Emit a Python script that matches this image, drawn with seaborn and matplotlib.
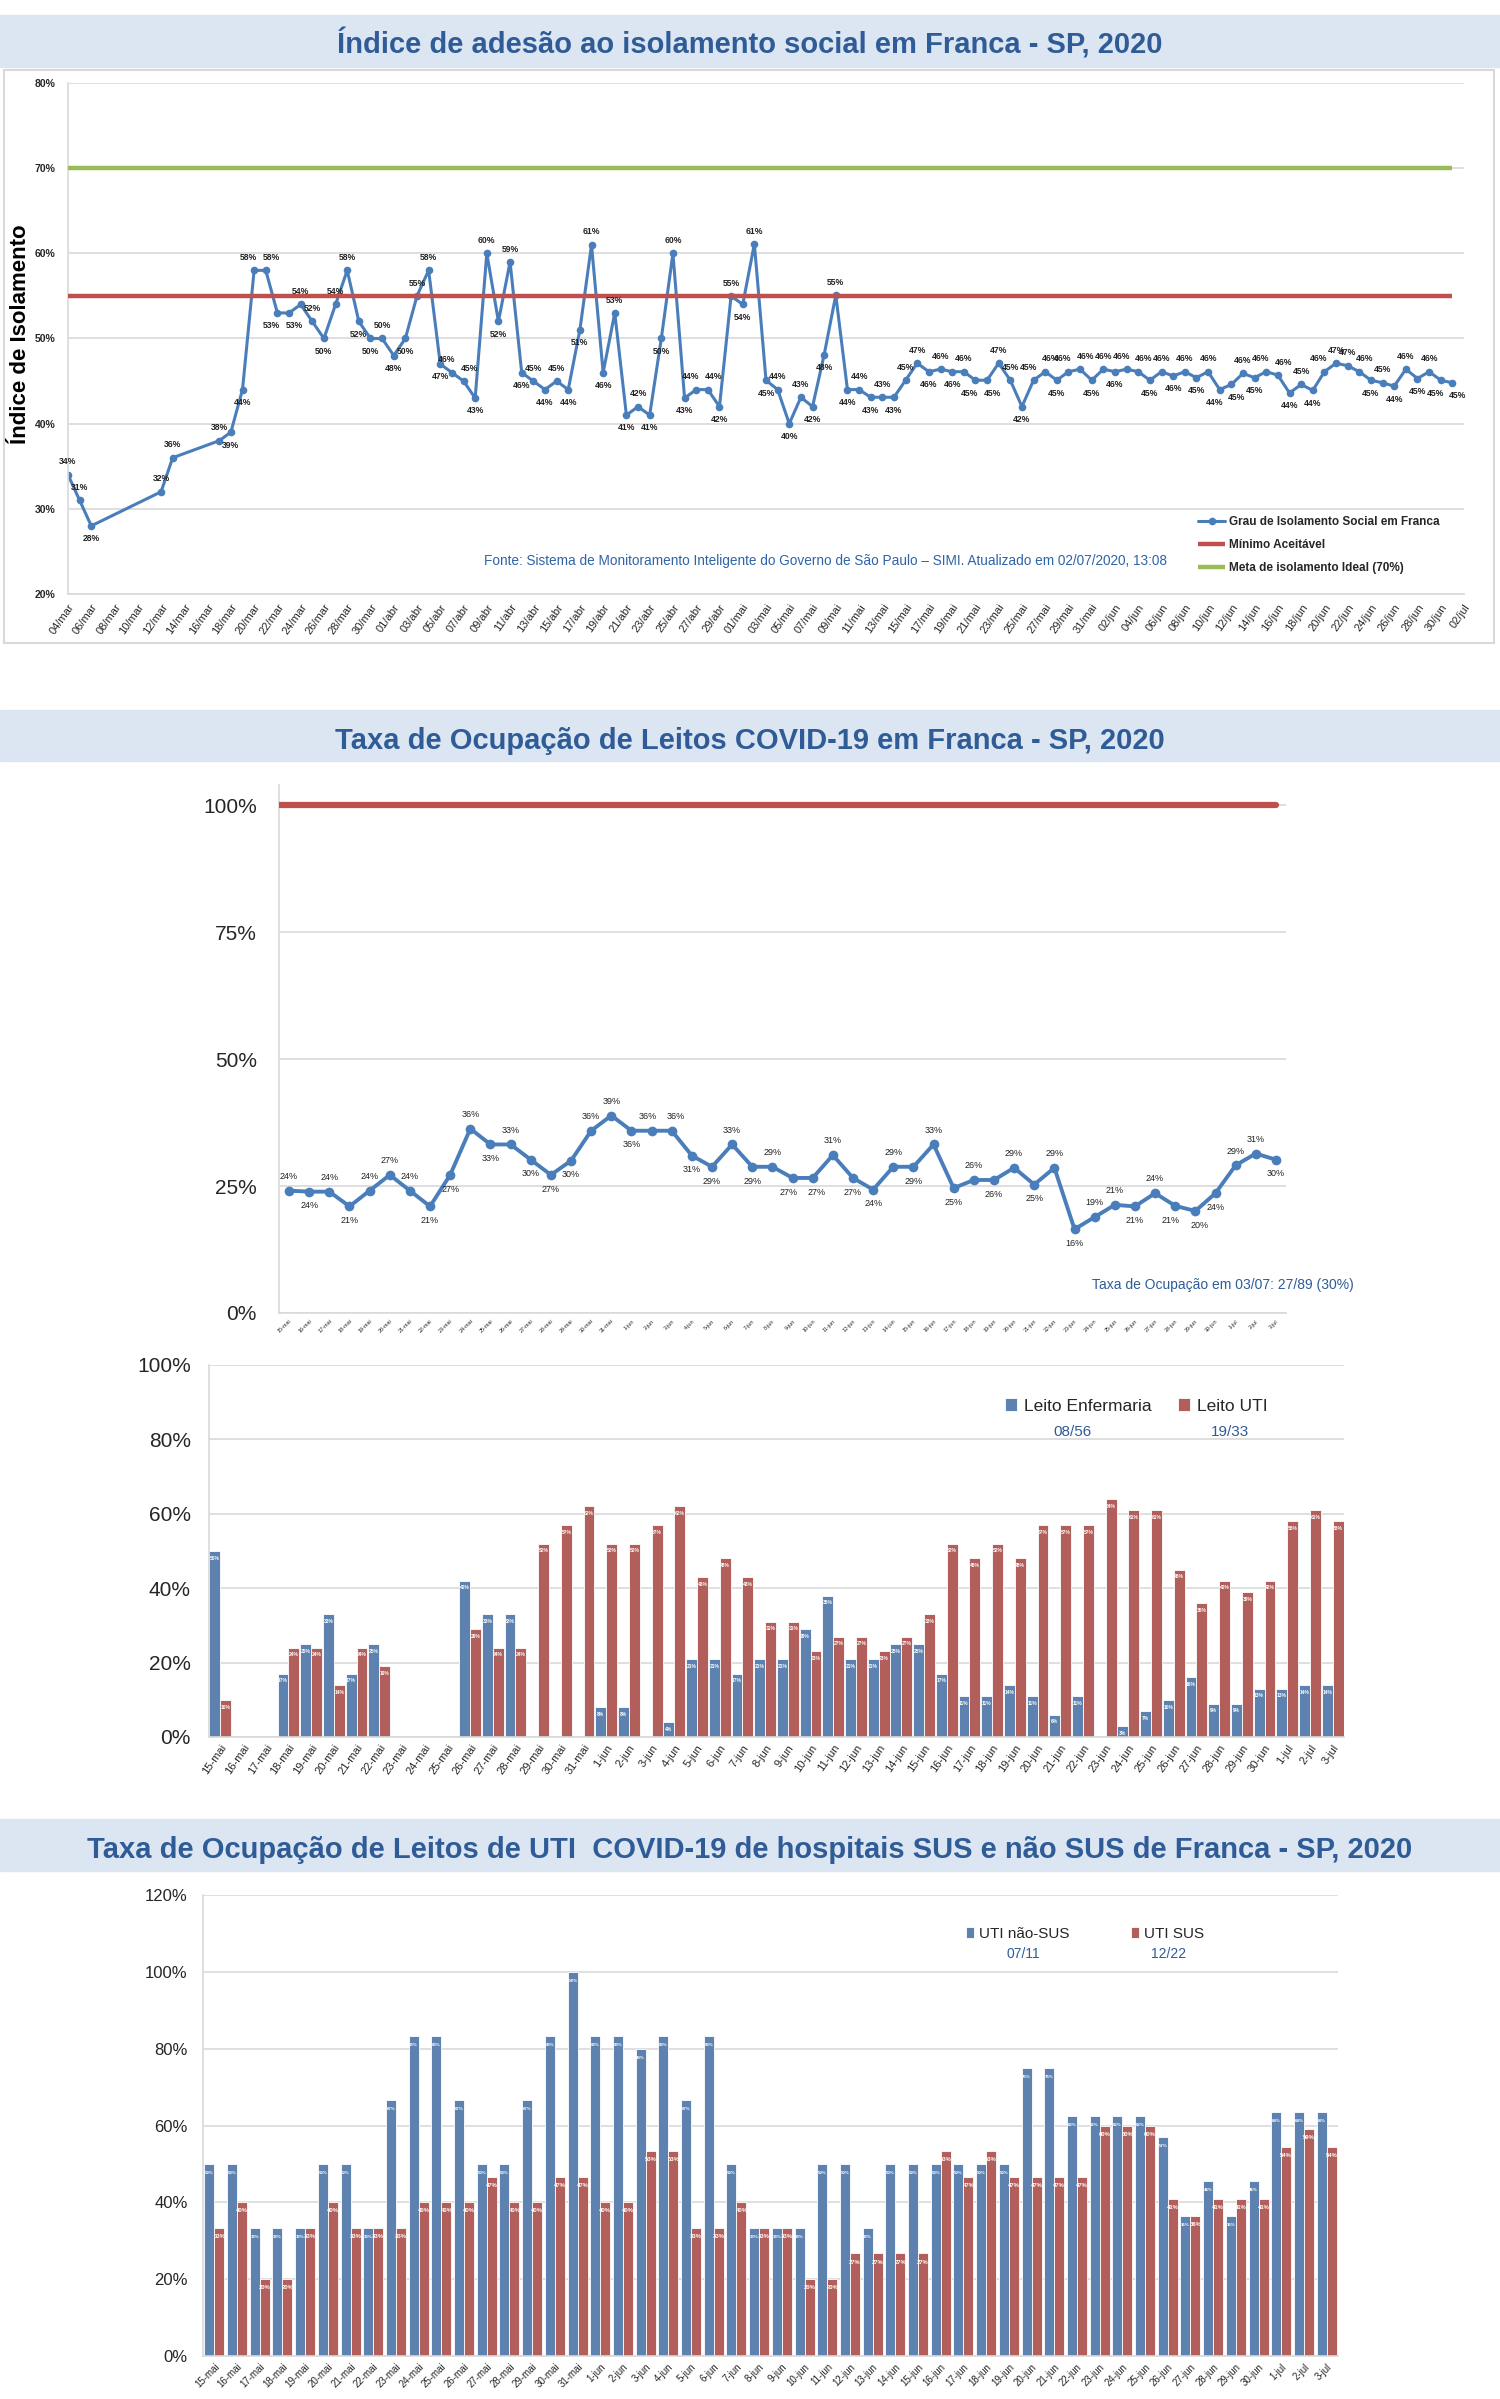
import matplotlib
matplotlib.use("Agg")
import matplotlib.pyplot as plt
from matplotlib.patches import Rectangle
import numpy as np
import pandas as pd
import seaborn as sns

# ---------------- dados ----------------
nan = np.nan
ISO_INICIO = "2020-03-04"
iso_mar = [34, 31, 28, nan, nan, nan, nan, nan, 32, 36, nan, nan, nan,
           38, 39, 44, 58, 58, 53, 53, 54, 52, 50, 54, 58, 52, 50, 50]
iso_abr = [48, 50, 55, 58, 47, 46, 45, 43, 60, 52, 59, 46, 45, 44, 45,
           44, 51, 61, 46, 53, 41, 42, 41, 50, 60, 43, 44, 44, 42, 55]
iso_mai = [54, 61.1, 45.1, 44, 40, 43.1, 42, 48.1, 55.1, 44, 44, 43.1, 43.1, 43.1, 45.1,
           47.1, 46.1, 46.4, 46.1, 46.1, 45.1, 45.1, 47.1, 45.1, 42, 45.1, 46.1, 45.1,
           46.1, 46.4, 45.1]
iso_jun = [46.4, 46.1, 46.4, 46.1, 45.1, 46.1, 45.6, 46.1, 45.4, 46.1, 44, 44.6, 45.9,
           45.4, 46.1, 45.7, 43.6, 44.6, 43.9, 46.1, 47.1, 46.8, 46.1, 45.1, 44.8, 44.4,
           46.4, 45.3, 46.1, 45.1]
iso_jul = [44.8]
MINIMO_ACEITAVEL = 55
META_IDEAL = 70

LEITOS_INICIO = "2020-05-15"
ocupacao_total = [24.1, 23.9, 23.9, 21.0, 24.1, 27.2, 24.1, 21.0, 27.2, 36.3, 33.2, 33.2,
                  30.2, 27.2, 30.0, 35.9, 38.9,
                  35.9, 35.9, 35.9, 31.0, 28.8, 33.2, 28.8, 28.8, 26.6, 26.6, 31.1, 26.6,
                  24.3, 28.8, 28.8, 33.2, 24.6, 26.2, 26.2, 28.6, 25.3, 28.6, 16.5, 18.9,
                  21.3, 21.0, 23.6, 21.1, 20.1, 23.6,
                  29.1, 31.4, 30.2]
CAPACIDADE = 100

leito_enfermaria = [50, nan, nan, 17, 25, 33, 17, 25, nan, nan, nan, 42, 33, 33, nan, nan, nan,
                    8, 8, nan, 4, 21, 21, 17, 21, 21, 29, 38, 21, 21, 25, 25, 17, 11, 11, 14,
                    11, 6, 11, nan, 3, 7, 10, 16, 9, 9, 13,
                    13, 14, 14]
leito_uti = [10, nan, nan, 24, 24, 14, 24, 19, nan, nan, nan, 29, 24, 24, 52, 57, 62,
             52, 52, 57, 62, 43, 48, 43, 31, 31, 23, 27, 27, 23, 27, 33, 52, 48, 52, 48,
             57, 57, 57, 64, 61, 61, 45, 36, 42, 39, 42,
             58, 61, 58]
enfermaria_hoje = "08/56"
uti_hoje = "19/33"

uti_nao_sus = [50, 50, 33.3, 33.3, 33.3, 50, 50, 33.3, 66.7, 83.3, 83.3, 66.7, 50, 50, 66.7,
               83.3, 100,
               83.3, 83.3, 80, 83.3, 66.7, 83.3, 50, 33.3, 33.3, 33.3, 50, 50, 33.3, 50, 50,
               50, 50, 50, 50, 75, 75, 62.5, 62.5, 62.5, 62.5, 57.1, 36.4, 45.5, 36.4, 45.5,
               63.6, 63.6, 63.6]
uti_sus = [33.3, 40, 20, 20, 33.3, 40, 33.3, 33.3, 33.3, 40, 40, 40, 46.7, 40, 40, 46.7, 46.7,
           40, 40, 53.3, 53.3, 33.3, 33.3, 40, 33.3, 33.3, 20, 20, 26.7, 26.7, 26.7, 26.7,
           53.3, 46.7, 53.3, 46.7, 46.7, 46.7, 46.7, 60, 60, 60, 40.9, 36.4, 40.9, 40.9, 40.9,
           54.5, 59.1, 54.5]
nao_sus_hoje = "07/11"
sus_hoje = "12/22"

MESES = {3: "mar", 4: "abr", 5: "mai", 6: "jun", 7: "jul"}

# ---------------- estilo ----------------
sns.set_theme(style="white")
plt.rcParams["font.family"] = ["Liberation Sans", "DejaVu Sans"]
NARROW = ["Liberation Sans Narrow", "Liberation Sans", "DejaVu Sans"]

AZUL_LINHA = "#4a7ebb"
AZUL_BARRA = "#4f81bd"
VERMELHO = "#c0504d"
VERDE = "#9bbb59"
GRADE = "#d9d9d9"
FAIXA = "#dce6f2"
AZUL_TEXTO = "#2f5c97"

W, H = 1500, 2399
fig = plt.figure(figsize=(W / 100, H / 100), dpi=100)


def box(left, top, right, bottom):
    return [left / W, 1 - bottom / H, (right - left) / W, (bottom - top) / H]


def fx(x):
    return x / W


def fy(y):
    return 1 - y / H


def title_band(top, bottom, text_y, text):
    fig.patches.append(Rectangle((0, fy(bottom)), 1, (bottom - top) / H,
                                 transform=fig.transFigure, color=FAIXA, zorder=0))
    fig.text(0.5, fy(text_y), text, ha="center", va="center",
             fontsize=21, fontweight="bold", color=AZUL_TEXTO, family=NARROW)


def label_offsets(vals, dy, dx):
    # acima/abaixo conforme os vizinhos; afasta rotulos vizinhos quase iguais
    up = []
    for i, v in enumerate(vals):
        nb = [vals[j] for j in (i - 1, i + 1) if 0 <= j < len(vals)]
        up.append(v >= sum(nb) / len(nb))
    shift = [0.0] * len(vals)
    for i in range(1, len(vals)):
        if up[i] == up[i - 1] and abs(vals[i] - vals[i - 1]) < 1.5:
            shift[i - 1] -= dx
            shift[i] += dx
    return [(s, dy if u else -dy) for s, u in zip(shift, up)]


def light_axes(ax):
    for s in ["top", "right"]:
        ax.spines[s].set_visible(False)
    for s in ["left", "bottom"]:
        ax.spines[s].set_color(GRADE)
        ax.spines[s].set_linewidth(1.2)
    ax.yaxis.grid(True, color=GRADE, lw=1.2)
    ax.set_axisbelow(True)
    ax.set_xlabel("")
    ax.set_ylabel("")


# ======== painel 1: isolamento ========
title_band(15, 67, 44, "Índice de adesão ao isolamento social em Franca - SP, 2020")
fig.patches.append(Rectangle((fx(4), fy(643)), (1494 - 4) / W, (643 - 70) / H,
                             transform=fig.transFigure, fill=False, ec=GRADE, lw=1.5))

ax1 = fig.add_axes(box(68, 83, 1464, 594))
iso = pd.DataFrame({
    "data": pd.date_range(ISO_INICIO, periods=len(iso_mar + iso_abr + iso_mai + iso_jun + iso_jul)),
    "indice": iso_mar + iso_abr + iso_mai + iso_jun + iso_jul,
}).dropna()
iso["dia"] = (iso["data"] - iso["data"].iloc[0]).dt.days

sns.lineplot(data=iso, x="dia", y="indice", ax=ax1, color=AZUL_LINHA, lw=2.2,
             marker="o", markersize=5.5, markeredgewidth=0, zorder=2,
             label="Grau de Isolamento Social em Franca")
ax1.hlines(MINIMO_ACEITAVEL, iso["dia"].min(), iso["dia"].max(), color=VERMELHO, lw=3.2,
           zorder=3, label="Mínimo Aceitável")
ax1.hlines(META_IDEAL, iso["dia"].min(), iso["dia"].max(), color=VERDE, lw=3.2,
           zorder=3, label="Meta de isolamento Ideal (70%)")

for (_, r), (ox, oy) in zip(iso.iterrows(), label_offsets(list(iso["indice"]), 6, 4)):
    ax1.annotate(f"{r['indice']:.0f}%", (r["dia"], r["indice"]), xytext=(ox, oy),
                 textcoords="offset points", ha="center", va="bottom" if oy > 0 else "top",
                 fontsize=6.2, fontweight="bold", color="#222222", family=NARROW, zorder=5)

ticks = np.arange(0, iso["dia"].max() + 2, 2)
tick_dates = pd.Timestamp(ISO_INICIO) + pd.to_timedelta(ticks, unit="D")
ax1.set_xticks(ticks, [f"{d.day:02d}/{MESES[d.month]}" for d in tick_dates])
ax1.set_xlim(0, ticks[-1])
ax1.set_ylim(20, 80)
ax1.set_yticks(np.arange(20, 81, 10), [f"{v}%" for v in range(20, 81, 10)])
light_axes(ax1)
ax1.tick_params(axis="y", length=0, pad=9, labelsize=7.5)
ax1.tick_params(axis="x", length=4, color=GRADE, pad=2, labelsize=8)
for t in ax1.get_yticklabels():
    t.set_fontweight("bold")
for t in ax1.get_xticklabels():
    t.set_rotation(55)
    t.set_ha("right")
    t.set_rotation_mode("anchor")
    t.set_family(NARROW)
fig.text(fx(21), fy(334), "Índice de Isolamento", rotation=90, ha="center", va="center",
         fontsize=16, fontweight="bold", color="black")
fig.text(fx(826), fy(561),
         "Fonte: Sistema de Monitoramento Inteligente do Governo de São Paulo – SIMI. "
         "Atualizado em 02/07/2020, 13:08",
         ha="center", va="center", fontsize=9.8, color="#2e64a8", family=NARROW)
leg = ax1.legend(loc="upper left", bbox_to_anchor=(fx(1198), fy(516)),
                 bbox_transform=fig.transFigure, frameon=False, borderpad=0,
                 borderaxespad=0, handlelength=2.3, handletextpad=0.3, labelspacing=0.95,
                 prop={"family": NARROW, "weight": "bold", "size": 8.5})

# ======== painel 2: ocupacao total ========
title_band(710, 761, 741, "Taxa de Ocupação de Leitos COVID-19 em Franca - SP, 2020")

dias = pd.date_range(LEITOS_INICIO, periods=len(ocupacao_total))
rotulos = [f"{d.day}-{MESES[d.month]}" for d in dias]

ax2 = fig.add_axes(box(279, 785, 1286, 1313))
ocup = pd.DataFrame({"dia": rotulos, "taxa": ocupacao_total})
ocup["pos"] = np.arange(len(ocup))
sns.lineplot(data=ocup, x="pos", y="taxa", ax=ax2, color=AZUL_LINHA, lw=2.8,
             marker="o", markersize=7, markeredgewidth=0, zorder=3)
ax2.set_xlim(-0.5, len(ocup) - 0.5)
ax2.hlines(CAPACIDADE, ax2.get_xlim()[0], ocup["pos"].max(), color=VERMELHO, lw=4.5,
           capstyle="round", zorder=3)
for (_, r), (ox, oy) in zip(ocup.iterrows(), label_offsets(list(ocup["taxa"]), 7, 3)):
    ax2.annotate(f"{r['taxa']:.0f}%", (r["pos"], r["taxa"]), xytext=(ox, oy),
                 textcoords="offset points", ha="center", va="bottom" if oy > 0 else "top",
                 fontsize=6.5, color="#222222", zorder=5)
ax2.set_ylim(0, 104)
ax2.set_yticks([0, 25, 50, 75, 100], ["0%", "25%", "50%", "75%", "100%"])
ax2.set_xticks(ocup["pos"], rotulos)
light_axes(ax2)
ax2.tick_params(axis="y", length=0, pad=16, labelsize=15)
ax2.tick_params(axis="x", length=3, color=GRADE, pad=1, labelsize=4)
for t in ax2.get_xticklabels():
    t.set_rotation(45)
    t.set_ha("right")
    t.set_rotation_mode("anchor")
fig.text(fx(1223), fy(1285), "Taxa de Ocupação em 03/07: 27/89 (30%)", ha="center",
         va="center", fontsize=10, color=AZUL_TEXTO, family=NARROW)

# ======== painel 2b: enfermaria x UTI ========
ax3 = fig.add_axes(box(209, 1365, 1344, 1737))
leitos = pd.DataFrame({"dia": rotulos, "Leito Enfermaria": leito_enfermaria,
                       "Leito UTI": leito_uti}).melt(id_vars="dia", var_name="tipo",
                                                       value_name="taxa").dropna()
sns.barplot(data=leitos, x="dia", y="taxa", hue="tipo", order=rotulos,
            hue_order=["Leito Enfermaria", "Leito UTI"], palette=[AZUL_BARRA, VERMELHO],
            width=0.96, errorbar=None, edgecolor="white", linewidth=0.6, ax=ax3, legend=False)
for c in ax3.containers:
    ax3.bar_label(c, fmt="{:.0f}%", padding=-7, color="white", fontsize=3.5,
                  fontweight="bold")
ax3.set_xlim(-0.5, len(rotulos) - 0.5)
ax3.set_ylim(0, 100)
ax3.set_yticks(np.arange(0, 101, 20), [f"{v}%" for v in range(0, 101, 20)])
light_axes(ax3)
ax3.tick_params(axis="y", length=0, pad=13, labelsize=15)
ax3.tick_params(axis="x", length=3, color=GRADE, pad=1, labelsize=8)
for t in ax3.get_yticklabels() + ax3.get_xticklabels():
    t.set_family(NARROW)
for t in ax3.get_xticklabels():
    t.set_rotation(55)
    t.set_ha("right")
    t.set_rotation_mode("anchor")
ax3.legend(ax3.containers, ["Leito Enfermaria", "Leito UTI"], ncol=2, loc="center left",
           bbox_to_anchor=(fx(1005), fy(1406)), bbox_transform=fig.transFigure,
           frameon=False, borderpad=0, borderaxespad=0, handlelength=0.7, handleheight=0.7,
           handletextpad=0.4, columnspacing=1.5, prop={"family": NARROW, "size": 12.5})
fig.text(fx(1073), fy(1432), enfermaria_hoje, ha="center", va="center", fontsize=11,
         color=AZUL_TEXTO, family=NARROW)
fig.text(fx(1230), fy(1432), uti_hoje, ha="center", va="center", fontsize=11,
         color=AZUL_TEXTO, family=NARROW)

# ======== painel 3: UTI SUS x nao SUS ========
title_band(1819, 1871, 1850,
           "Taxa de Ocupação de Leitos de UTI  COVID-19 de hospitais SUS e não SUS de Franca - SP, 2020")
ax4 = fig.add_axes(box(203, 1895, 1338, 2356))
uti = pd.DataFrame({"dia": rotulos, "UTI não-SUS": uti_nao_sus,
                    "UTI SUS": uti_sus}).melt(id_vars="dia", var_name="tipo",
                                              value_name="taxa")
sns.barplot(data=uti, x="dia", y="taxa", hue="tipo", order=rotulos,
            hue_order=["UTI não-SUS", "UTI SUS"], palette=[AZUL_BARRA, VERMELHO],
            width=0.88, errorbar=None, edgecolor="white", linewidth=0.6, ax=ax4, legend=False)
for c, fs in zip(ax4.containers, [3.2, 4.2]):
    ax4.bar_label(c, fmt="{:.0f}%", padding=-8, color="white", fontsize=fs,
                  fontweight="bold")
ax4.set_xlim(-0.5, len(rotulos) - 0.5)
ax4.set_ylim(0, 120)
ax4.set_yticks(np.arange(0, 121, 20), [f"{v}%" for v in range(0, 121, 20)])
light_axes(ax4)
ax4.tick_params(axis="y", length=0, pad=11, labelsize=12)
ax4.tick_params(axis="x", length=3, color=GRADE, pad=1, labelsize=7)
for t in ax4.get_xticklabels():
    t.set_rotation(45)
    t.set_ha("right")
    t.set_rotation_mode("anchor")
ax4.legend(ax4.containers, ["UTI não-SUS", "UTI SUS"], ncol=2, loc="center left",
           bbox_to_anchor=(fx(966), fy(1934)), bbox_transform=fig.transFigure,
           frameon=False, borderpad=0, borderaxespad=0, handlelength=0.55, handleheight=0.7,
           handletextpad=0.3, columnspacing=4.0, prop={"size": 11})
fig.text(fx(1023), fy(1954), nao_sus_hoje, ha="center", va="center", fontsize=10,
         color=AZUL_TEXTO)
fig.text(fx(1169), fy(1954), sus_hoje, ha="center", va="center", fontsize=10,
         color=AZUL_TEXTO)

fig.savefig("out.png", dpi=100, facecolor="white")
